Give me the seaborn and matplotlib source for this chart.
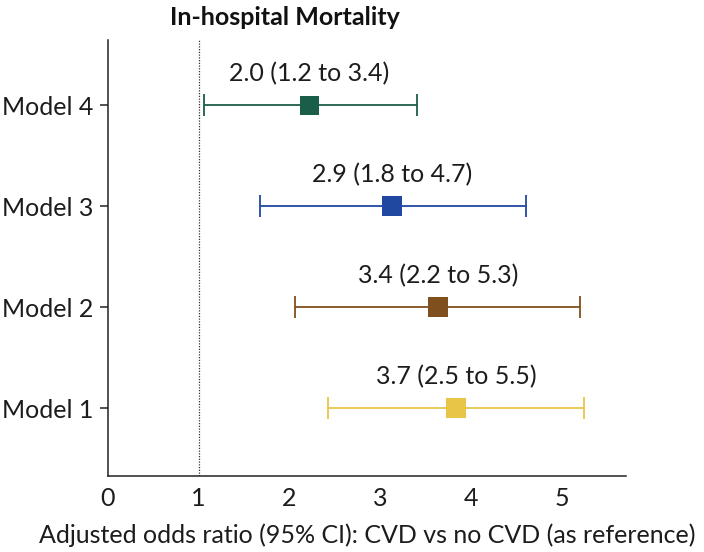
import numpy as np
import matplotlib
matplotlib.use("Agg")
import matplotlib.pyplot as plt
import seaborn as sns

# values
models = ["Model 1", "Model 2", "Model 3", "Model 4"]
estimates = [3.83, 3.63, 3.13, 2.22]
ci_low = [2.42, 2.06, 1.67, 1.06]
ci_high = [5.24, 5.20, 4.60, 3.40]
labels = ["3.7 (2.5 to 5.5)", "3.4 (2.2 to 5.3)", "2.9 (1.8 to 4.7)", "2.0 (1.2 to 3.4)"]
colors = ["#e8c547", "#7f4f1e", "#2148a0", "#1a5e4a"]
xticks = [0, 1, 2, 3, 4, 5]

sns.set_style("ticks")
plt.rcParams["font.family"] = ["Lato", "DejaVu Sans"]
txt_color = "#1c1c1c"
fs = 18

fig = plt.figure(figsize=(7.04, 5.52), dpi=100)
ax = fig.add_axes([0.153, 0.138, 0.736, 0.79])

ypos = np.arange(1, len(models) + 1)

for y, est, lo, hi, col in zip(ypos, estimates, ci_low, ci_high, colors):
    ax.errorbar(est, y, xerr=[[est - lo], [hi - est]], fmt="none",
                ecolor=col, elinewidth=1.3, capsize=8, capthick=1.3, zorder=2)

sns.scatterplot(x=estimates, y=ypos, hue=models, palette=colors, marker="s",
                s=200, edgecolor="none", legend=False, ax=ax, zorder=3)

for y, est, txt in zip(ypos, estimates, labels):
    ax.text(est, y + 0.31, txt, ha="center", va="center",
            fontsize=fs, color=txt_color)

ax.axvline(1, color="#333333", linestyle=(0, (1, 1.2)), linewidth=0.9, zorder=1)

ax.set_xlim(0, 5.7)
ax.set_ylim(0.33, 4.65)
ax.set_xticks(xticks)
ax.set_xticklabels([str(t) for t in xticks])
ax.set_yticks(ypos)
ax.set_yticklabels(models)
ax.tick_params(axis="x", length=0, pad=8, labelsize=fs, labelcolor=txt_color)
ax.tick_params(axis="y", length=6, width=1.1, pad=4, labelsize=fs,
               labelcolor=txt_color, color="#222222")
ax.set_xlabel("Adjusted odds ratio (95% CI): CVD vs no CVD (as reference)",
              fontsize=fs, color=txt_color, labelpad=10)
ax.set_ylabel("")
for s in ["left", "bottom"]:
    ax.spines[s].set_linewidth(1.1)
    ax.spines[s].set_color("#222222")
sns.despine(ax=ax)

fig.text(0.405, 0.968, "In-hospital Mortality", ha="center", va="center",
         fontsize=18, fontweight="bold", color="#111111")

fig.savefig("out.png", dpi=100)
